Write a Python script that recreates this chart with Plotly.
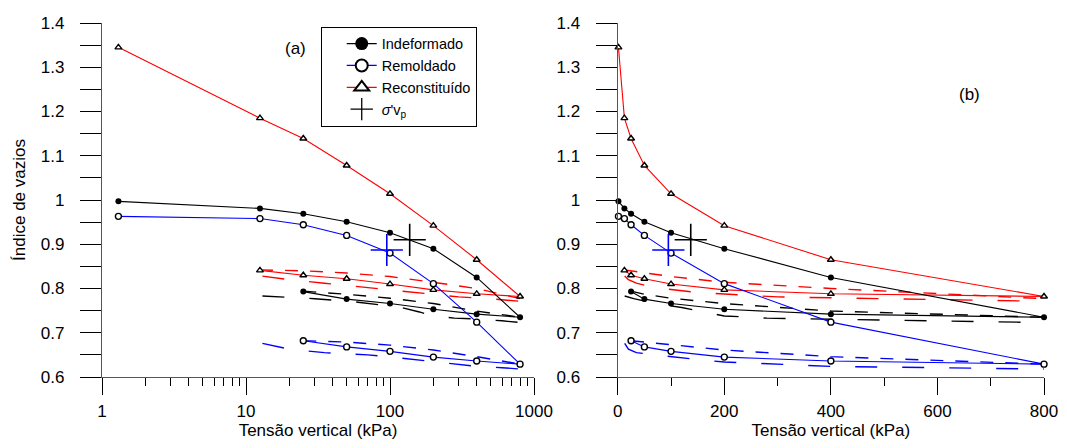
import plotly.graph_objects as go

# ---------------- data ----------------
# Oedometer curves: loading then unloading (kPa, void ratio)
p_ind = [1.3, 12.5, 25, 50, 100, 200, 400, 800, 400, 200, 100, 50, 25]
e_ind = [0.997, 0.981, 0.969, 0.951, 0.926, 0.890, 0.825, 0.735, 0.742, 0.753, 0.766, 0.776, 0.793]

p_rem = [1.3, 12.5, 25, 50, 100, 200, 400, 800, 400, 200, 100, 50, 25]
e_rem = [0.963, 0.958, 0.944, 0.920, 0.880, 0.811, 0.724, 0.629, 0.636, 0.645, 0.658, 0.668, 0.682]

p_rec = [1.3, 12.5, 25, 50, 100, 200, 400, 800, 400, 200, 100, 50, 25, 12.5]
e_rec = [1.345, 1.185, 1.139, 1.078, 1.014, 0.942, 0.865, 0.782, 0.788, 0.797, 0.810, 0.822, 0.830, 0.841]

# short-dashed curves
p_ind_sd = [25, 50, 100, 200, 400, 800]
e_ind_sd = [0.794, 0.787, 0.778, 0.766, 0.749, 0.735]
p_rem_sd = [25, 50, 100, 200, 400, 800]
e_rem_sd = [0.682, 0.679, 0.672, 0.661, 0.646, 0.629]
p_rec_sd = [12.5, 25, 50, 100, 200, 400, 800]
e_rec_sd = [0.842, 0.840, 0.835, 0.827, 0.814, 0.800, 0.777]

# long-dashed curves
p_ind_ld = [13, 30, 60, 80, 120, 160, 200, 280, 400, 600, 800]
e_ind_ld = [0.783, 0.777, 0.769, 0.764, 0.757, 0.747, 0.738, 0.733, 0.731, 0.727, 0.723]
p_rem_ld = [13, 20, 35, 70, 110, 160, 200, 270, 400, 600, 800]
e_rem_ld = [0.676, 0.663, 0.655, 0.650, 0.644, 0.638, 0.634, 0.630, 0.624, 0.621, 0.618]
p_rec_ld = [13, 20, 35, 70, 150, 300, 500, 800]
e_rec_ld = [0.828, 0.820, 0.812, 0.802, 0.791, 0.781, 0.777, 0.771]

# preconsolidation stress sigma'vp
p_svp_ind = [137]
e_svp_ind = [0.910]
p_svp_rem = [95]
e_svp_rem = [0.887]

y_ticks = [0.6, 0.7, 0.8, 0.9, 1.0, 1.1, 1.2, 1.3, 1.4]
y_ticktext = ["0.6", "0.7", "0.8", "0.9", "1", "1.1", "1.2", "1.3", "1.4"]
y_minor = [0.65, 0.75, 0.85, 0.95, 1.05, 1.15, 1.25, 1.35]
xlog_ticks = [1, 10, 100, 1000]
xlog_minor = [2, 3, 4, 5, 6, 7, 8, 9, 20, 30, 40, 50, 60, 70, 80, 90,
              200, 300, 400, 500, 600, 700, 800, 900]
xlin_ticks = [0, 200, 400, 600, 800]
xlin_minor = [100, 300, 500, 700]

# ---------------- figure ----------------
FONT = "Arial, Liberation Sans, sans-serif"
SD = "13px,12px"
LD = "22px,25px"
TF = 17

fig = go.Figure()

for xa, ya in (("x", "y"), ("x2", "y2")):
    # dashed curves
    for p, e, col, dash in (
        (p_rec_sd, e_rec_sd, "red", SD), (p_rec_ld, e_rec_ld, "red", LD),
        (p_ind_sd, e_ind_sd, "black", SD), (p_ind_ld, e_ind_ld, "black", LD),
        (p_rem_sd, e_rem_sd, "blue", SD), (p_rem_ld, e_rem_ld, "blue", LD),
    ):
        fig.add_trace(go.Scatter(x=p, y=e, mode="lines", xaxis=xa, yaxis=ya,
                                 line=dict(color=col, width=1.4, dash=dash),
                                 showlegend=False, hoverinfo="skip"))
    # main curves
    fig.add_trace(go.Scatter(x=p_rec, y=e_rec, mode="lines+markers", xaxis=xa, yaxis=ya,
                             line=dict(color="red", width=1.1),
                             marker=dict(symbol="triangle-up", size=6, color="white",
                                         line=dict(color="black", width=1.4)),
                             cliponaxis=False, showlegend=False))
    fig.add_trace(go.Scatter(x=p_ind, y=e_ind, mode="lines+markers", xaxis=xa, yaxis=ya,
                             line=dict(color="black", width=1.1),
                             marker=dict(symbol="circle", size=6, color="black"),
                             cliponaxis=False, showlegend=False))
    fig.add_trace(go.Scatter(x=p_rem, y=e_rem, mode="lines+markers", xaxis=xa, yaxis=ya,
                             line=dict(color="blue", width=1.1),
                             marker=dict(symbol="circle", size=6, color="white",
                                         line=dict(color="black", width=1.4)),
                             cliponaxis=False, showlegend=False))
    fig.add_trace(go.Scatter(x=p_svp_rem, y=e_svp_rem, mode="markers", xaxis=xa, yaxis=ya,
                             marker=dict(symbol="cross-thin", size=23,
                                         line=dict(color="blue", width=1.6)),
                             showlegend=False))
    fig.add_trace(go.Scatter(x=p_svp_ind, y=e_svp_ind, mode="markers", xaxis=xa, yaxis=ya,
                             marker=dict(symbol="cross-thin", size=23,
                                         line=dict(color="black", width=1.6)),
                             showlegend=False))

# legend proxies
fig.add_trace(go.Scatter(x=[None], y=[None], mode="lines+markers", name="Indeformado",
                         line=dict(color="black", width=1.2),
                         marker=dict(symbol="circle", size=13, color="black")))
fig.add_trace(go.Scatter(x=[None], y=[None], mode="lines+markers", name="Remoldado",
                         line=dict(color="blue", width=1.2),
                         marker=dict(symbol="circle", size=12, color="white",
                                     line=dict(color="black", width=2))))
fig.add_trace(go.Scatter(x=[None], y=[None], mode="lines+markers", name="Reconstituído",
                         line=dict(color="red", width=1.2),
                         marker=dict(symbol="triangle-up", size=13, color="white",
                                     line=dict(color="black", width=2))))
fig.add_trace(go.Scatter(x=[None], y=[None], mode="markers",
                         name="<i>σ</i>'v<sub>p</sub>",
                         marker=dict(symbol="cross-thin", size=16,
                                     line=dict(color="black", width=1.3))))

yax = dict(range=[0.6, 1.4], tickmode="array", tickvals=y_ticks, ticktext=y_ticktext,
           ticks="outside", ticklen=21, tickcolor="black", tickwidth=1,
           showline=True, linecolor="#555555", linewidth=1.2,
           showgrid=False, zeroline=False, automargin=False,
           minor=dict(tickmode="array", tickvals=y_minor, ticks="outside", ticklen=21,
                      tickcolor="black", tickwidth=1, showgrid=False),
           ticklabelstandoff=12, tickfont=dict(size=TF, family=FONT, color="black"))

xcommon = dict(ticks="outside", ticklen=17, tickcolor="black", tickwidth=1,
               showline=True, linecolor="#555555", linewidth=1.2,
               showgrid=False, zeroline=False, automargin=False,
               ticklabelstandoff=1, tickfont=dict(size=TF), ticklabeloverflow="allow",
               title=dict(text="Tensão vertical (kPa)", font=dict(size=TF), standoff=8))

# the page body adds an 8px offset; the figure is sized to fit the window without overflow
fig.update_layout(
    width=1051, height=432,
    margin=dict(l=94, r=15, t=15, b=63),
    paper_bgcolor="white", plot_bgcolor="white",
    font=dict(family=FONT, size=TF, color="black"),
    xaxis=dict(xcommon, domain=[0, 0.4586], type="log", range=[0, 3],
               tickmode="array", tickvals=xlog_ticks, ticktext=[str(v) for v in xlog_ticks],
               minor=dict(tickmode="array", tickvals=xlog_minor, ticks="outside", ticklen=8,
                          tickcolor="black", tickwidth=1, showgrid=False),
               anchor="y"),
    yaxis=dict(yax, domain=[0, 1], anchor="x",
               title=dict(text="Índice de vazios", font=dict(size=TF), standoff=10)),
    xaxis2=dict(xcommon, domain=[0.5475, 1], range=[0, 800],
                tickmode="array", tickvals=xlin_ticks, ticktext=[str(v) for v in xlin_ticks],
                minor=dict(tickmode="array", tickvals=xlin_minor, ticks="outside", ticklen=8,
                           tickcolor="black", tickwidth=1, showgrid=False),
                anchor="y2"),
    yaxis2=dict(yax, domain=[0, 1], anchor="x2"),
    legend=dict(x=0.2322, y=0.9896, xanchor="left", yanchor="top",
                bgcolor="white", bordercolor="black", borderwidth=1,
                font=dict(size=14.5, family=FONT), indentation=20,
                traceorder="normal"),
    annotations=[
        dict(text="(a)", x=0.2049, y=0.929, xref="paper", yref="paper",
             xanchor="center", yanchor="middle",
             showarrow=False, font=dict(size=TF)),
        dict(text="(b)", x=0.9204, y=0.799, xref="paper", yref="paper",
             xanchor="center", yanchor="middle",
             showarrow=False, font=dict(size=TF)),
    ],
)

fig.write_html("out.html")
